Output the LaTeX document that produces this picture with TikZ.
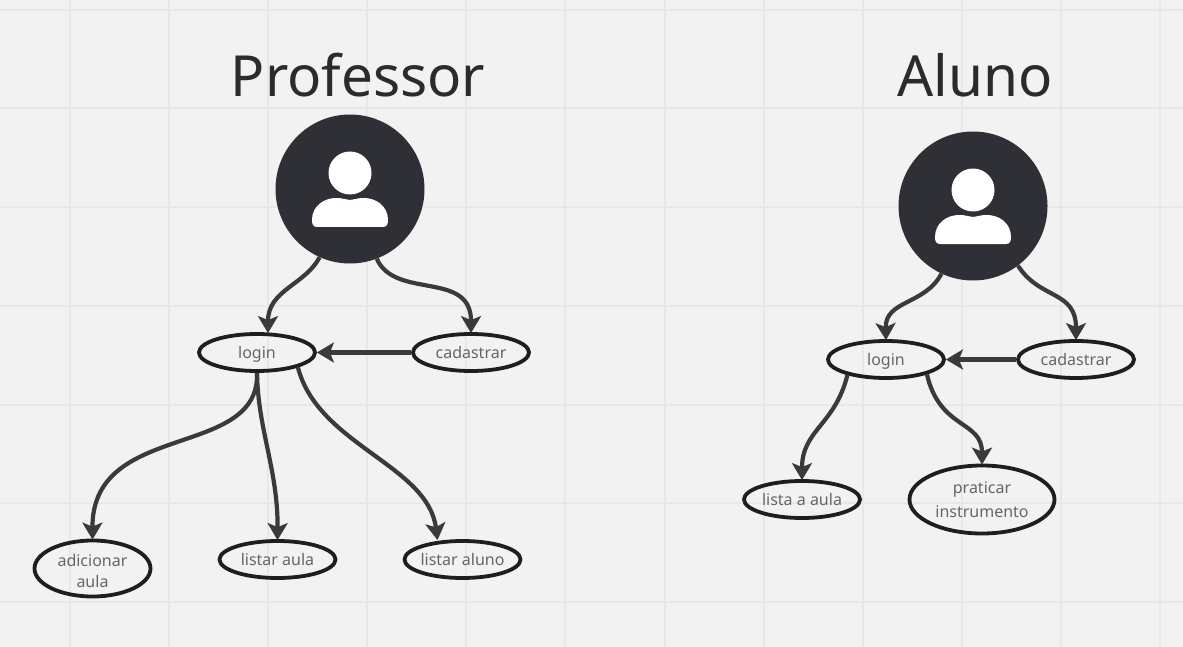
\documentclass[tikz,border=0pt]{standalone}
\usepackage{fontspec}
\setmainfont{Noto Sans}
\usetikzlibrary{shapes.geometric,arrows.meta}
\definecolor{bgc}{HTML}{F2F2F2}
\definecolor{gridc}{HTML}{E8E8E8}
\definecolor{linec}{HTML}{3A3A3A}
\definecolor{edgec}{HTML}{1E1E1E}
\definecolor{labelc}{HTML}{666666}
\definecolor{darkc}{HTML}{2F3035}
\definecolor{titlec}{HTML}{2B2B2B}
\tikzset{
  usecase/.style={ellipse,draw=edgec,line width=3.8pt,minimum width=116pt,minimum height=37pt,inner sep=0pt,text=labelc,font=\fontsize{16}{21}\selectfont,align=center,text height=15pt,text depth=3pt},
  bigcase/.style={usecase,minimum width=116pt,minimum height=56pt,text height=38pt,text depth=0pt},
  hugecase/.style={usecase,minimum width=145pt,minimum height=68pt,font=\fontsize{16}{24}\selectfont,text height=36.4pt,text depth=0pt},
  actor/.style={circle,fill=darkc,minimum size=149pt,inner sep=0pt},
  head/.style={circle,fill=white,minimum size=43pt,inner sep=0pt},
  title/.style={text=titlec,font=\fontsize{56.7}{60}\selectfont},
  conn/.style={draw=linec,line width=4.2pt,-{Stealth[length=17pt,width=20pt,inset=4pt]}},
  gridline/.style={draw=gridc,line width=1.3pt}
}
\newcommand{\bodyshape}[2]{%
  \fill[white,shift={(#1,#2)}] (-33,38) .. controls (-37,38) and (-38,35) .. (-38,31)
    .. controls (-38,17) and (-26,9) .. (-14,9) .. controls (-6,9) and (-4,11) .. (0,11)
    .. controls (4,11) and (6,9) .. (14,9) .. controls (26,9) and (38,17) .. (38,31)
    .. controls (38,35) and (37,38) .. (33,38) -- cycle;}
\begin{document}
\begin{tikzpicture}[x=1pt,y=-1pt]
\useasboundingbox (0,0) rectangle (1183,647);
\fill[bgc] (0,0) rectangle (1183,647);
\foreach \gx in {70,169,268,367,466,565,665,764,863,962,1061,1160}
  \draw[gridline] (\gx,0) -- (\gx,647);
\foreach \gy in {10,108,207,306,405,503,602}
  \draw[gridline] (0,\gy) -- (1183,\gy);

\node[title] (tp) at (358,75) {Professor};
\node[title] (ta) at (975,75) {Aluno};

\node[actor] (pa) at (350,189) {};
\node[head] (ph) at (350,173) {};
\bodyshape{350}{189}
\node[actor] (aa) at (973,206) {};
\node[head] (ah) at (973,190) {};
\bodyshape{973}{206}

\node[usecase] (pl) at (257,352.5) {login};
\node[usecase] (pc) at (471,352.5) {cadastrar};
\node[bigcase] (pad) at (92.5,568.5) {adicionar\\aula};
\node[usecase] (pla) at (277.5,559.5) {listar aula};
\node[usecase] (pal) at (462.5,559.5) {\makebox[70pt]{listar aluno}};

\node[usecase] (al) at (886,359.5) {login};
\node[usecase] (ac) at (1076,359.5) {cadastrar};
\node[usecase] (ala) at (802,499.5) {lista a aula};
\node[hugecase] (api) at (982,499.5) {praticar\\instrumento};

\draw[conn] (pa.246) .. controls (305,285) and (268,290) .. ([xshift=11pt,yshift=-1pt]pl.north);
\draw[conn] (pa.291) .. controls (395,300) and (471,270) .. ([yshift=-1pt]pc.north);
\draw[conn] (pc.west) -- (pl.east);
\draw[conn] (pl.south) .. controls (260,460) and (92,420) .. ([yshift=-1pt]pad.north);
\draw[conn] (pl.south) .. controls (258,430) and (278,470) .. ([yshift=-1pt]pla.north);
\draw[conn] (pl.-20.4) .. controls (318,445) and (428,465) .. ([xshift=-25pt,yshift=-1pt]pal.north);

\draw[conn] (aa.-115.5) .. controls (925,305) and (885,300) .. ([yshift=-1pt]al.north);
\draw[conn] (aa.-53.3) .. controls (1040,300) and (1076,290) .. ([yshift=-1pt]ac.north);
\draw[conn] (ac.west) -- (al.east);
\draw[conn] (al.202) .. controls (835,425) and (802,430) .. ([yshift=-1pt]ala.north);
\draw[conn] (al.-20.6) .. controls (940,430) and (982,420) .. ([yshift=-1pt]api.north);
\end{tikzpicture}
\end{document}
